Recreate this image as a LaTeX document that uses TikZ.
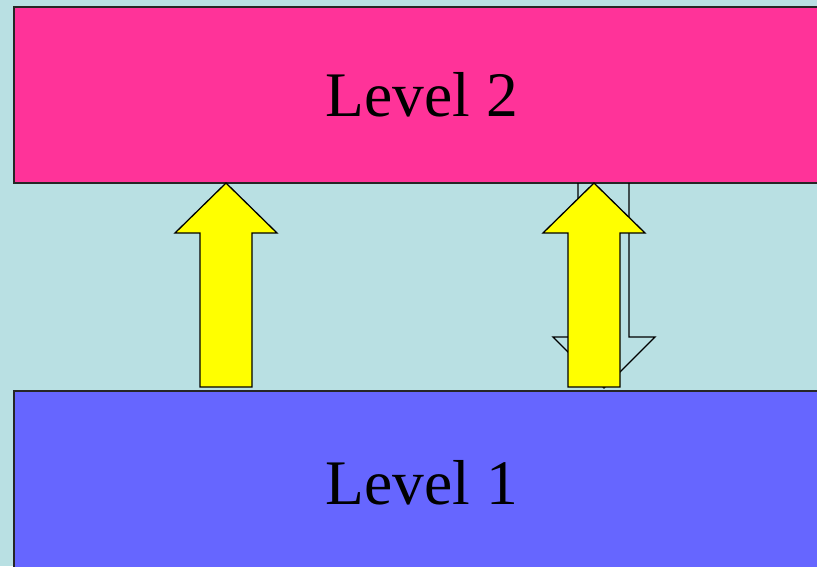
\documentclass[tikz,border=0pt]{standalone}
\usepackage{fontspec}
\setmainfont{Liberation Serif}
\definecolor{bgc}{HTML}{B9E0E3}
\definecolor{pinkc}{HTML}{FF3399}
\definecolor{bluec}{HTML}{6666FF}
\definecolor{yelc}{HTML}{FFFF00}
\begin{document}
\begin{tikzpicture}[x=1pt,y=-1pt,
  levelbox/.style={draw=black!85,line width=1.6pt,font=\fontsize{63.5}{70}\selectfont,inner sep=0pt},
  blockarrow/.style={draw=black,line width=1.3pt,line join=miter},
  ]
\useasboundingbox (0,0) rectangle (817,566);
\clip (0,0) rectangle (817,566);
\fill[bgc] (0,0) rectangle (817,566);
\node[levelbox,fill=pinkc,minimum width=816pt,minimum height=176pt] (lv2) at (422,95) {Level 2};
\node[levelbox,fill=bluec,minimum width=816pt,minimum height=184pt] (lv1) at (422,483) {Level 1};
% outline down arrow (behind)
\draw[blockarrow] (578,183) -- (578,337) -- (553,337) -- (604,388) -- (655,337) -- (629,337) -- (629,183);
% right yellow up arrow
\draw[blockarrow,fill=yelc] (568,387) -- (568,233) -- (543,233) -- (594,183) -- (645,233) -- (620,233) -- (620,387) -- cycle;
% left yellow up arrow
\draw[blockarrow,fill=yelc] (200,387) -- (200,233) -- (175,233) -- (226,183) -- (277,233) -- (252,233) -- (252,387) -- cycle;
\end{tikzpicture}
\end{document}
